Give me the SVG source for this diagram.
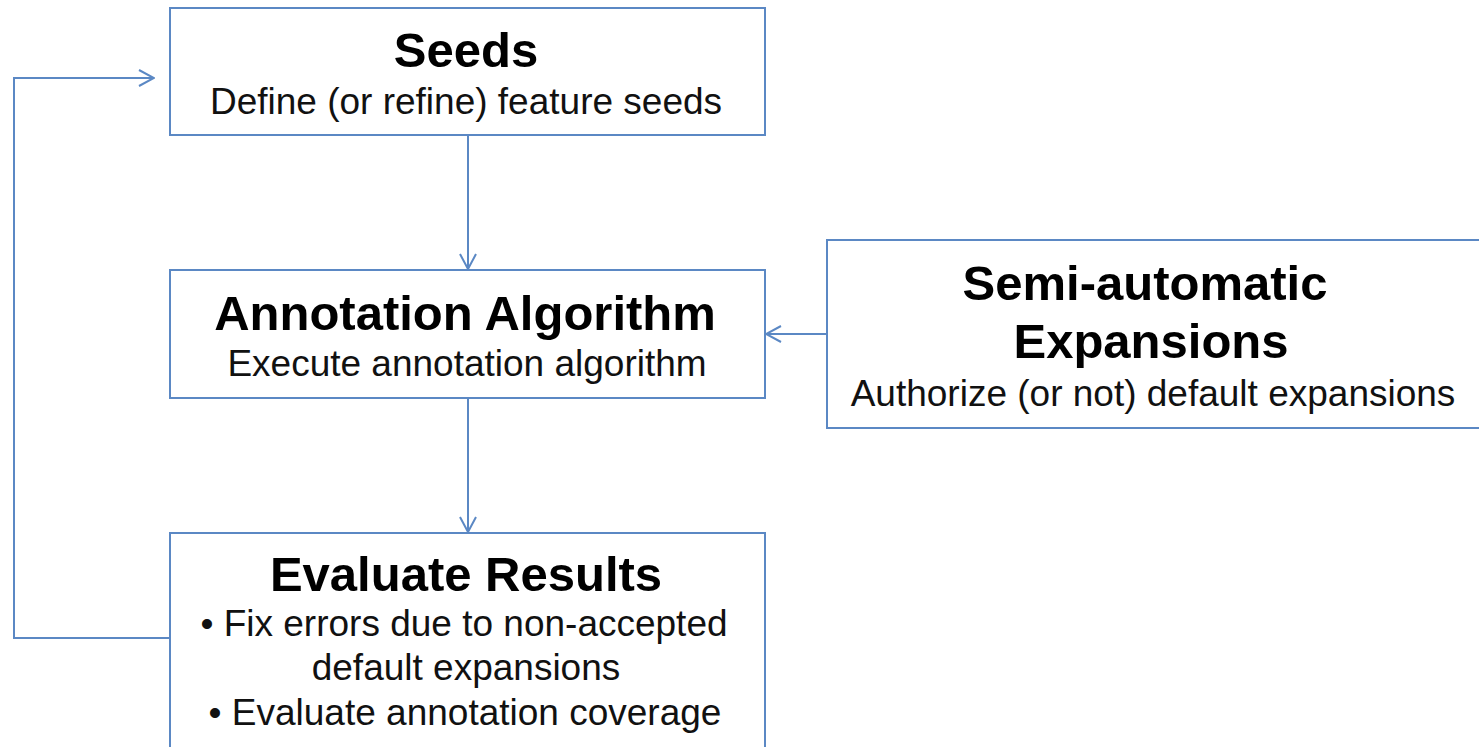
<svg xmlns="http://www.w3.org/2000/svg" width="1479" height="747" viewBox="0 0 1479 747">
<defs>
<marker id="arr" viewBox="0 0 20 20" refX="19" refY="10" markerWidth="20" markerHeight="20" markerUnits="userSpaceOnUse" orient="auto">
<path d="M4,2 L19,10 L4,18" fill="none" stroke="#5B88C4" stroke-width="2"/>
</marker>
<style>
.box{fill:#fff;stroke:#5B88C4;stroke-width:2}
.t{font-family:"Liberation Sans",Arial,sans-serif;font-weight:bold;font-size:49px;fill:#000;text-anchor:middle}
.s{font-family:"Liberation Sans",Arial,sans-serif;font-size:37px;fill:#111;text-anchor:middle}
.c{fill:none;stroke:#5B88C4;stroke-width:2}
</style>
</defs>
<rect width="1479" height="747" fill="#fff"/>
<g id="connectors">
<line class="c" x1="468" y1="136" x2="468" y2="269" marker-end="url(#arr)"/>
<line class="c" x1="468" y1="399" x2="468" y2="532" marker-end="url(#arr)"/>
<line class="c" x1="827" y1="334" x2="766" y2="334" marker-end="url(#arr)"/>
<polyline class="c" points="170,638 14,638 14,78 154,78" marker-end="url(#arr)"/>
</g>
<g id="seeds">
<rect class="box" x="170" y="8" width="595" height="127"/>
<text class="t" x="466" y="67">Seeds</text>
<text class="s" x="466" y="114">Define (or refine) feature seeds</text>
</g>
<g id="annotation">
<rect class="box" x="170" y="270" width="595" height="128"/>
<text class="t" x="465" y="330">Annotation Algorithm</text>
<text class="s" x="467" y="376">Execute annotation algorithm</text>
</g>
<g id="semi">
<rect class="box" x="827" y="240" width="660" height="188"/>
<text class="t" x="1145" y="300">Semi-automatic</text>
<text class="t" x="1151" y="358">Expansions</text>
<text class="s" x="1153" y="406">Authorize (or not) default expansions</text>
</g>
<g id="evaluate">
<rect class="box" x="170" y="533" width="595" height="230"/>
<text class="t" x="466" y="591">Evaluate Results</text>
<text class="s" x="464" y="636">• Fix errors due to non-accepted</text>
<text class="s" x="466" y="680">default expansions</text>
<text class="s" x="465" y="725">• Evaluate annotation coverage</text>
</g>
</svg>
